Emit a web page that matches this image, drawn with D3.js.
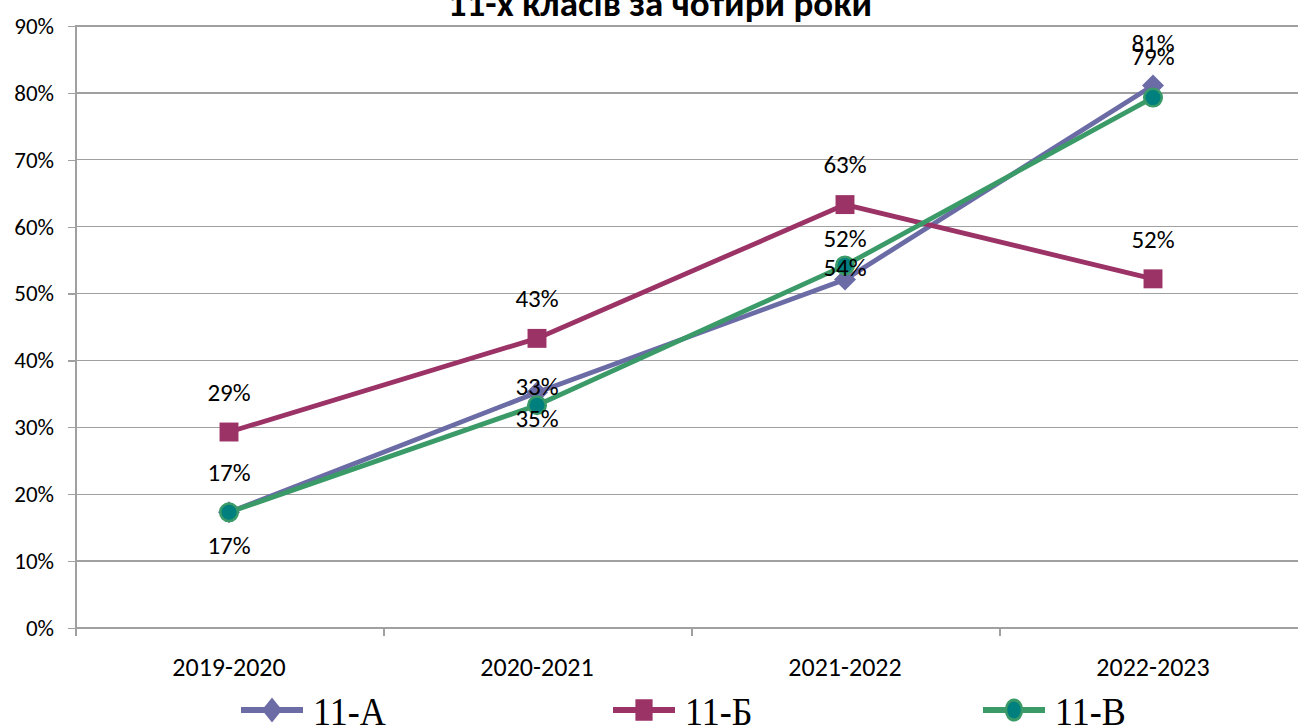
<!DOCTYPE html>
<meta charset="utf-8">
<script src="https://cdn.jsdelivr.net/npm/d3@7"></script>
<style type="text/css">
    body { margin: 0; background: #fff; }
    .grid line { stroke: #a0a0a0; stroke-width: 1.3; shape-rendering: crispEdges; }
    .axis path, .axis line { fill: none; stroke: #a0a0a0; stroke-width: 1.3; shape-rendering: crispEdges; }
    .axis text { font-family: Carlito, "Open Sans", sans-serif; fill: #000; }
</style>
<body>
<script>
    // data
    var years = ["2019-2020", "2020-2021", "2021-2022", "2022-2023"];
    var classA = [17.3, 35.2, 52.1, 81.1];
    var classB = [29.3, 43.3, 63.3, 52.2];
    var classV = [17.3, 33.3, 54.2, 79.3];
    var yTicks = [0, 10, 20, 30, 40, 50, 60, 70, 80, 90];
    var title = "11-х класів за чотири роки";

    var series = [
        {name: "11-А", values: classA, color: "#6b6ba6", marker: "diamond"},
        {name: "11-Б", values: classB, color: "#9b3366", marker: "square"},
        {name: "11-В", values: classV, color: "#3a9a68", marker: "circle"}
    ];

    // label offsets (px) - the original has hand-placed data labels
    var labelDy = {
        "11-А": [-40, 26, -41, -42],
        "11-Б": [-40, -40, -40, -40],
        "11-В": [33, -19, 2, -41]
    };

    var chartW = 1298, chartH = 727;
    var plotLeft = 75, plotTop = 26, plotBottom = 628;

    var svg = d3.select("body").append("svg")
        .attr("width", chartW).attr("height", chartH);

    var xScale = d3.scaleBand().domain(years).range([plotLeft, plotLeft + 308 * years.length]);
    var yScale = d3.scaleLinear().domain([0, 90]).range([plotBottom, plotTop]);

    // gridlines
    svg.append("g").attr("class", "grid")
        .selectAll("line").data(yTicks).enter().append("line")
        .attr("x1", plotLeft).attr("x2", chartW)
        .attr("y1", function(d){ return yScale(d); })
        .attr("y2", function(d){ return yScale(d); });

    // y axis
    var yAxis = svg.append("g").attr("class", "axis")
        .attr("transform", "translate(" + (plotLeft + 1) + ",0)")
        .call(d3.axisLeft(yScale).tickValues(yTicks).tickSize(8).tickPadding(14)
            .tickFormat(function(d){ return d + "%"; }));
    yAxis.select(".domain").attr("d", "M0," + plotTop + "V" + plotBottom);
    yAxis.selectAll("text").style("font-size", "23px");

    // x axis
    var xAxis = svg.append("g").attr("class", "axis")
        .attr("transform", "translate(0," + plotBottom + ")")
        .call(d3.axisBottom(xScale).tickSize(0).tickPadding(30));
    xAxis.select(".domain").remove();
    xAxis.selectAll("text").style("font-size", "26px").attr("y", 39).attr("dy", "0.35em");
    xAxis.selectAll("line.sep").data(years).enter().append("line")
        .attr("class", "sep")
        .attr("x1", function(d){ return xScale(d) + 1; })
        .attr("x2", function(d){ return xScale(d) + 1; })
        .attr("y1", 0).attr("y2", 8);

    // title (cut off at top)
    svg.append("text")
        .attr("x", 660).attr("y", 16)
        .attr("text-anchor", "middle")
        .style("font-family", "Carlito, 'Open Sans', sans-serif")
        .style("font-weight", "bold")
        .style("font-size", "37px")
        .text(title);

    function drawMarker(g, s, x, y, size, sy) {
        var m = g.append("g").attr("transform", "translate(" + x + "," + y + ") scale(1," + sy + ")");
        if (s.marker === "diamond") {
            m.append("path")
                .attr("d", "M0," + (-size) + "L" + size + ",0L0," + size + "L" + (-size) + ",0Z")
                .attr("fill", s.color);
        } else if (s.marker === "square") {
            m.append("rect")
                .attr("x", -size * 0.86).attr("y", -size * 0.86)
                .attr("width", size * 1.72).attr("height", size * 1.72)
                .attr("fill", s.color);
        } else {
            m.append("circle")
                .attr("r", size * 0.8)
                .attr("fill", "#007f7f")
                .attr("stroke", s.color).attr("stroke-width", 2.5);
        }
    }

    var line = d3.line()
        .x(function(d, i){ return xScale(years[i]) + xScale.bandwidth() / 2; })
        .y(function(d){ return yScale(d); });

    series.forEach(function(s){
        var g = svg.append("g");
        g.append("path")
            .datum(s.values)
            .attr("d", line)
            .attr("fill", "none")
            .attr("stroke", s.color)
            .attr("stroke-width", 4.8);
        s.values.forEach(function(v, i){
            drawMarker(g, s, xScale(years[i]) + xScale.bandwidth() / 2, yScale(v), 11, 1);
        });
    });

    // data labels
    series.forEach(function(s){
        svg.append("g").selectAll("text").data(s.values).enter().append("text")
            .attr("x", function(d, i){ return xScale(years[i]) + xScale.bandwidth() / 2; })
            .attr("y", function(d, i){ return yScale(d) + labelDy[s.name][i]; })
            .attr("dy", "0.35em")
            .attr("text-anchor", "middle")
            .style("font-family", "Carlito, 'Open Sans', sans-serif")
            .style("font-size", "25px")
            .text(function(d){ return Math.round(d) + "%"; });
    });

    // legend
    var legendX = [241, 613, 983];
    var legendY = 710;
    series.forEach(function(s, i){
        var g = svg.append("g");
        g.append("line")
            .attr("x1", legendX[i]).attr("x2", legendX[i] + 62)
            .attr("y1", legendY).attr("y2", legendY)
            .attr("stroke", s.color).attr("stroke-width", 6);
        drawMarker(g, s, legendX[i] + 31, legendY, 10, 1.25);
        var t = g.append("text")
            .attr("x", legendX[i] + 72).attr("y", legendY + 15)
            .style("font-family", "'Liberation Serif', 'DejaVu Serif', serif")
            .style("font-size", "40px")
            .text(s.name);
        var len = t.node().getComputedTextLength();
        t.attr("textLength", len * 0.9).attr("lengthAdjust", "spacingAndGlyphs");
    });
</script>
</body>
